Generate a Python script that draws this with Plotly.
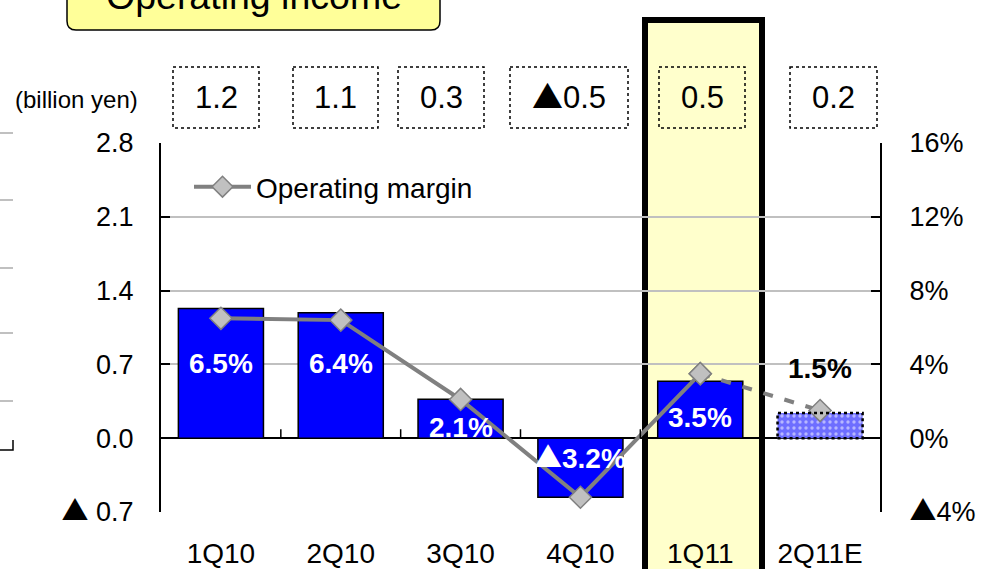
import plotly.graph_objects as go

# ---------------- data ----------------
categories = ["1Q10", "2Q10", "3Q10", "4Q10", "1Q11", "2Q11E"]
operating_income = [1.23, 1.19, 0.37, -0.56, 0.54, 0.24]          # billion yen
income_labels = ["1.2", "1.1", "0.3", "▲0.5", "0.5", "0.2"]
operating_margin = [6.5, 6.4, 2.1, -3.2, 3.5, 1.5]                # %
margin_labels = ["6.5%", "6.4%", "2.1%", "▲3.2%", "3.5%", "1.5%"]
left_tickvals = [-0.7, 0.0, 0.7, 1.4, 2.1, 2.8]
left_ticktext = ["▲ 0.7", "0.0", "0.7", "1.4", "2.1", "2.8"]
right_tickvals = [-4, 0, 4, 8, 12, 16]
right_ticktext = ["▲4%", "0%", "4%", "8%", "12%", "16%"]

# ---------------- layout geometry (pixels) ----------------
W, H = 985, 569
L, R, T, B = 161, 880, 143, 512
FONT = "Liberation Sans, Arial, DejaVu Sans, sans-serif"
TRI_FONT = "Noto Sans CJK JP"


def tri(s):
    """Render the ▲ mark with a CJK font (full-width triangle)."""
    return s.replace("▲", f"<span style=\"font-family:'{TRI_FONT}'\">▲</span>")


def px(x):
    return (x - L) / (R - L)


def py(y):
    return (B - y) / (B - T)


n = len(categories)
BLUE = "#0000FF"
GRAY = "#808080"
GRID = "#C0C0C0"

fig = go.Figure()

# bars
bar_colors = [BLUE] * (n - 1) + ["#6e6eff"]
fig.add_trace(go.Bar(
    x=categories, y=operating_income, width=0.71,
    marker=dict(
        color=bar_colors,
        line=dict(color="black", width=[1.5] * (n - 1) + [0]),
        pattern=dict(shape=[""] * (n - 1) + ["."], fgcolor="white",
                     size=6, solidity=0.25),
    ),
    showlegend=False, hoverinfo="skip",
))

# margin line (actual) and forecast dashed
fig.add_trace(go.Scatter(
    x=categories[:n - 1], y=operating_margin[:n - 1], yaxis="y2",
    mode="lines+markers", name="Operating margin",
    line=dict(color=GRAY, width=4),
    marker=dict(symbol="diamond", size=17, color="#C0C0C0",
                line=dict(color=GRAY, width=1.5)),
))
fig.add_trace(go.Scatter(
    x=categories[n - 2:], y=operating_margin[n - 2:], yaxis="y2",
    mode="lines+markers", showlegend=False,
    line=dict(color=GRAY, width=4, dash="10px,12px"),
    marker=dict(symbol="diamond", size=17, color="#C0C0C0",
                line=dict(color=GRAY, width=1.5)),
))

shapes = []
# highlighted 1Q11 column
shapes.append(dict(type="rect", xref="paper", yref="paper",
                   x0=px(645), x1=px(762), y0=py(20), y1=py(600),
                   fillcolor="#FFFFCC", line=dict(width=0), layer="below"))
shapes.append(dict(type="rect", xref="paper", yref="paper",
                   x0=px(645), x1=px(762), y0=py(20), y1=py(600),
                   fillcolor="rgba(0,0,0,0)", line=dict(color="black", width=6),
                   layer="between"))

# category tick marks on the zero line
for i in range(n - 1):
    shapes.append(dict(type="line", xref="x", yref="y",
                       x0=i + 0.5, x1=i + 0.5, y0=0, y1=0.085,
                       line=dict(color="black", width=1.5)))

# dotted outline of forecast bar
shapes.append(dict(type="rect", xref="x", yref="y",
                   x0=n - 1 - 0.355, x1=n - 1 + 0.355, y0=0, y1=operating_income[-1],
                   line=dict(color="black", width=2.5, dash="dot"),
                   fillcolor="rgba(0,0,0,0)", layer="above"))

# dotted value boxes
boxes = [(173, 259), (293, 378), (398, 484), (510, 628), (659, 745), (790, 877)]
annotations = []
for (bx0, bx1), lab in zip(boxes, income_labels):
    shapes.append(dict(type="rect", xref="paper", yref="paper",
                       x0=px(bx0), x1=px(bx1), y0=py(67), y1=py(128),
                       line=dict(color="black", width=1.5, dash="dot")))
    annotations.append(dict(xref="paper", yref="paper", x=px((bx0 + bx1) / 2),
                            y=py(98), text=tri(lab), showarrow=False,
                            xanchor="center", yanchor="middle",
                            yshift=3 if "▲" in lab else 0,
                            font=dict(size=31, color="black", family=FONT)))

# title box (rounded)
tx0, tx1, ty0, ty1, rr = 67, 440, -30, 30, 9
path = (f"M {px(tx0)},{py(ty0)} L {px(tx0)},{py(ty1 - rr)} "
        f"Q {px(tx0)},{py(ty1)} {px(tx0 + rr)},{py(ty1)} "
        f"L {px(tx1 - rr)},{py(ty1)} Q {px(tx1)},{py(ty1)} {px(tx1)},{py(ty1 - rr)} "
        f"L {px(tx1)},{py(ty0)} Z")
shapes.append(dict(type="path", xref="paper", yref="paper", path=path,
                   fillcolor="#FFFF99", line=dict(color="black", width=1.5)))
annotations.append(dict(xref="paper", yref="paper", x=px(254), y=py(-4),
                        text="Operating income", showarrow=False,
                        xanchor="center", yanchor="middle",
                        font=dict(size=37.5, color="black", family=FONT)))

# unit label
annotations.append(dict(xref="paper", yref="paper", x=px(76), y=py(100),
                        text="(billion yen)", showarrow=False,
                        xanchor="center", yanchor="middle",
                        font=dict(size=24, color="black", family=FONT)))

# margin labels
label_shift = [-45, -43, -28, 41, -44, 42]
label_color = ["white"] * (n - 1) + ["black"]
for i, (c, m, lab) in enumerate(zip(categories, operating_margin, margin_labels)):
    annotations.append(dict(x=c, y=m, xref="x", yref="y2", text=f"<b>{tri(lab)}</b>",
                            showarrow=False, yshift=label_shift[i],
                            xanchor="center", yanchor="middle",
                            font=dict(size=28, color=label_color[i], family=FONT)))

# clipped remnants at the left edge
for gy in [133, 200, 268, 333, 401]:
    shapes.append(dict(type="line", xref="paper", yref="paper",
                       x0=px(0), x1=px(13), y0=py(gy), y1=py(gy),
                       line=dict(color=GRID, width=2)))
shapes.append(dict(type="path", xref="paper", yref="paper",
                   path=f"M {px(13)},{py(440)} L {px(13)},{py(450)} L {px(0)},{py(450)}",
                   line=dict(color="black", width=1.5)))

fig.update_layout(
    width=W, height=H, autosize=False,
    margin=dict(l=L, r=W - R, t=T, b=H - B, pad=0, autoexpand=False),
    paper_bgcolor="white", plot_bgcolor="rgba(0,0,0,0)",
    font=dict(family=FONT, size=28, color="black"),
    bargap=0.29,
    xaxis=dict(type="category", range=[-0.5, n - 0.5], showline=False,
               showgrid=False, ticks="", zeroline=False, automargin=False,
               tickfont=dict(size=28), ticklabelstandoff=22),
    yaxis=dict(range=[-0.7, 2.8], tickvals=left_tickvals,
               ticktext=[tri(t) for t in left_ticktext], automargin=False,
               showgrid=True, gridcolor=GRID, gridwidth=2,
               zeroline=True, zerolinecolor="black", zerolinewidth=2,
               showline=True, linecolor="black", linewidth=2,
               ticks="inside", ticklen=9, tickwidth=2, tickcolor="black",
               tickfont=dict(size=27), ticklabelstandoff=20),
    yaxis2=dict(range=[-4, 16], overlaying="y", side="right",
                tickvals=right_tickvals, ticktext=[tri(t) for t in right_ticktext],
                showgrid=False, zeroline=False, automargin=False,
                showline=True, linecolor="black", linewidth=2,
                ticks="inside", ticklen=9, tickwidth=2, tickcolor="black",
                tickfont=dict(size=27), ticklabelstandoff=22),
    legend=dict(x=px(189), y=py(162), xanchor="left", yanchor="top",
                bgcolor="rgba(0,0,0,0)", font=dict(size=28),
                itemwidth=57, borderwidth=0),
    shapes=shapes,
    annotations=annotations,
)

fig.write_html("out.html", config={"displayModeBar": False},
               post_script="document.body.style.margin='0';")
